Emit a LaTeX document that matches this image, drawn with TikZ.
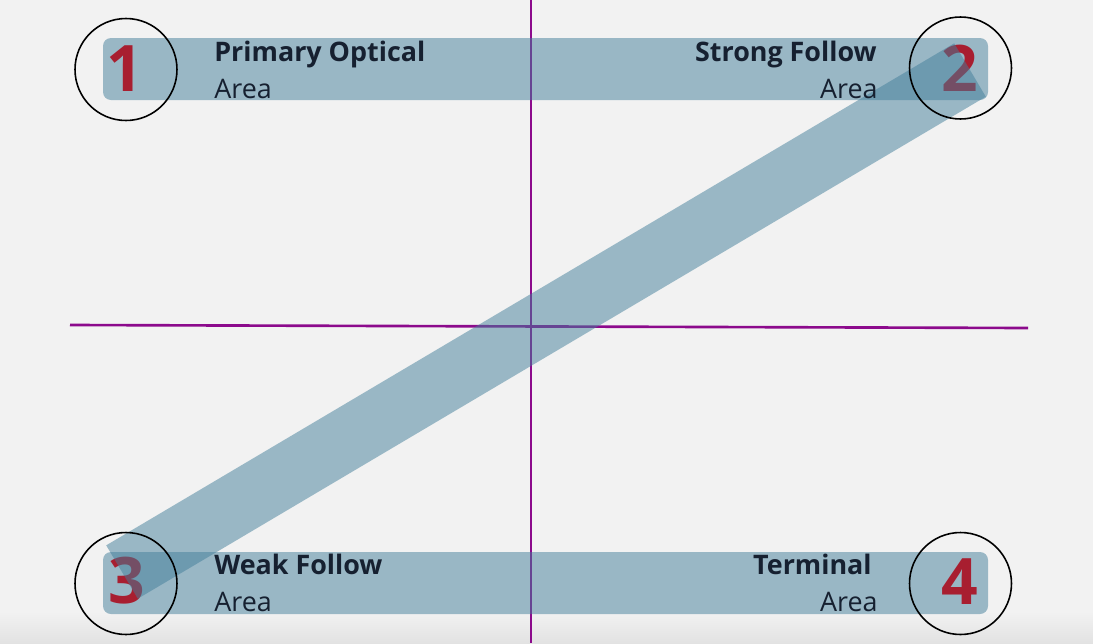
\documentclass[tikz,border=0pt]{standalone}
\usepackage{fontspec}
\setmainfont{Open Sans}
\definecolor{bgc}{RGB}{242,242,242}
\definecolor{bgd}{RGB}{226,226,226}
\definecolor{bandc}{RGB}{66,126,154}
\definecolor{axisc}{RGB}{140,10,140}
\definecolor{numc}{RGB}{168,30,48}
\definecolor{txtc}{RGB}{22,32,48}
\tikzset{
  band/.style={fill=bandc, fill opacity=0.5, rounded corners=0.16cm},
  diag/.style={draw=bandc, draw opacity=0.5, line width=1.24cm, line cap=butt},
  axisline/.style={draw=axisc, line width=1.5pt},
  numlabel/.style={text=numc, font=\fontsize{36.5}{36}\selectfont\bfseries, inner sep=0pt},
  ring/.style={draw=black, line width=0.9pt, circle, minimum size=2.04cm, inner sep=0pt},
  title/.style={text=txtc, font=\fontsize{15.3}{16}\selectfont\bfseries, inner sep=0pt},
  sub/.style={text=txtc, font=\fontsize{15.3}{16}\selectfont, inner sep=0pt}
}
\begin{document}
\begin{tikzpicture}[x=0.02cm,y=-0.02cm]
\useasboundingbox (0,0) rectangle (1093,643);
\fill[bgc] (0,0) rectangle (1093,643);
\shade[top color=bgc, bottom color=bgd] (0,612) rectangle (1093,643);
% axes
\draw[axisline] (531,0) -- (531,643);
\draw[axisline] (70,325) -- (1028,328);
% bands
\fill[band] (103,38) rectangle (988,100);
\fill[band] (103,552) rectangle (988,614);
% numbers
\node[numlabel] (n1) at (125,69) {1};
\node[numlabel] (n2) at (960,68) {2};
\node[numlabel] (n3) at (127,581) {3};
\node[numlabel] (n4) at (960,582) {4};
% diagonal
\coordinate (d3) at (122,572);
\coordinate (d2) at (970,70);
\draw[diag] (d3) -- (d2);
% rings
\node[ring] (c1) at (126,69.5) {};
\node[ring] (c2) at (960.5,68) {};
\node[ring] (c3) at (126,583.5) {};
\node[ring] (c4) at (960.5,583.5) {};
% texts
\node[title, anchor=base west] (t1) at (214,61) {Primary Optical};
\node[sub, anchor=base west] (a1) at (214,98) {Area};
\node[title, anchor=base east] (t2) at (877,61) {Strong Follow};
\node[sub, anchor=base east] (a2) at (878,98) {Area};
\node[title, anchor=base west] (t3) at (214,574) {Weak Follow};
\node[sub, anchor=base west] (a3) at (214,611) {Area};
\node[title, anchor=base east] (t4) at (872,574) {Terminal};
\node[sub, anchor=base east] (a4) at (878,611) {Area};
\end{tikzpicture}
\end{document}
